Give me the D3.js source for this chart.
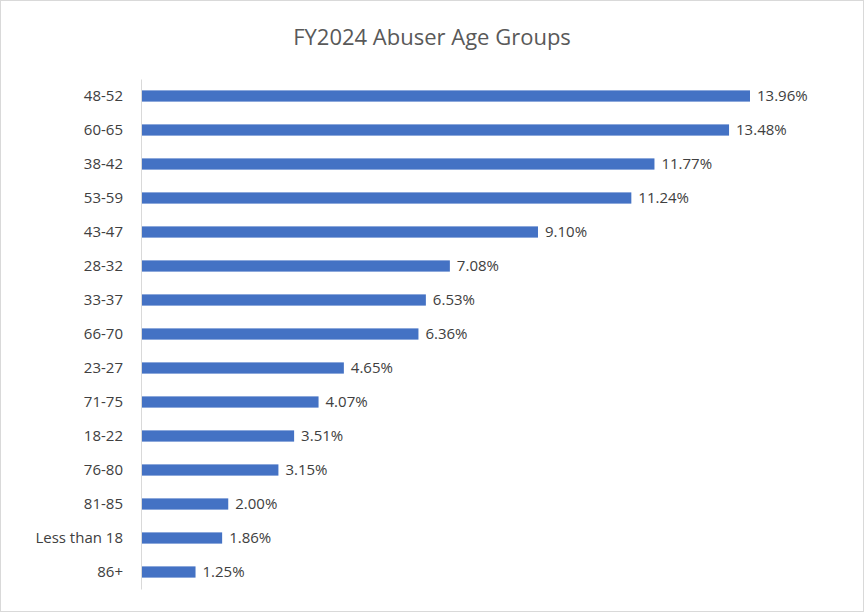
<!DOCTYPE html>
<html><head><meta charset="utf-8">
<script src="https://cdn.jsdelivr.net/npm/d3@7"></script>
<style>body{margin:0;background:#fff}</style>
</head><body><svg id="c" width="864" height="612"></svg>
<script>
const categories = ["48-52","60-65","38-42","53-59","43-47","28-32","33-37","66-70","23-27","71-75","18-22","76-80","81-85","Less than 18","86+"];
const values = [13.96,13.48,11.77,11.24,9.10,7.08,6.53,6.36,4.65,4.07,3.51,3.15,2.00,1.86,1.25];
const title = "FY2024 Abuser Age Groups";

const svg = d3.select("#c");
const font = "'Open Sans', 'Liberation Sans', sans-serif";
svg.append("rect").attr("x",0.5).attr("y",0.5).attr("width",863).attr("height",611)
  .attr("fill","#fff").attr("stroke","#d9d9d9");
svg.append("text").attr("x",432).attr("y",45).attr("text-anchor","middle")
  .attr("font-family",font).attr("font-size",22).attr("fill","#595959").text(title);

const x0 = 141;
const x = d3.scaleLinear().domain([0,13.96]).range([x0,750]);
const y = d3.scaleBand().domain(categories).range([79,589]).paddingInner(0.67).paddingOuter(0.335);

svg.selectAll("rect.bar").data(values).join("rect").attr("class","bar")
  .attr("x",x0).attr("y",(d,i)=>y(categories[i])).attr("width",d=>x(d)-x0)
  .attr("height",y.bandwidth()).attr("fill","#4472c4");

svg.selectAll("text.val").data(values).join("text").attr("class","val")
  .attr("x",d=>x(d)+7).attr("y",(d,i)=>y(categories[i])+y.bandwidth()/2).attr("dy","0.35em")
  .attr("font-family",font).attr("font-size",15).attr("fill","#404040")
  .text(d=>d.toFixed(2)+"%");

const ax = svg.append("g").attr("transform",`translate(${x0},0)`)
  .call(d3.axisLeft(y).tickSize(0).tickPadding(18));
ax.select(".domain").attr("stroke","#d9d9d9");
ax.selectAll("text").attr("font-family",font).attr("font-size",15).attr("fill","#404040");
</script></body></html>
